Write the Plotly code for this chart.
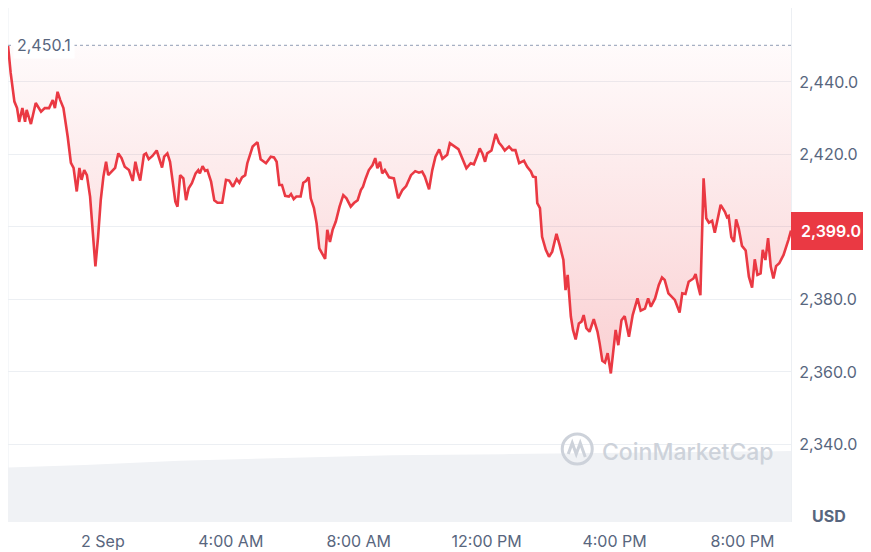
import plotly.graph_objects as go

# ---- price series ----
times = [
    "2024-09-01 21:02", "2024-09-01 21:07", "2024-09-01 21:14", "2024-09-01 21:19",
    "2024-09-01 21:23", "2024-09-01 21:29", "2024-09-01 21:34", "2024-09-01 21:37",
    "2024-09-01 21:45", "2024-09-01 21:54", "2024-09-01 22:04", "2024-09-01 22:11",
    "2024-09-01 22:19", "2024-09-01 22:26", "2024-09-01 22:30", "2024-09-01 22:35",
    "2024-09-01 22:40", "2024-09-01 22:46", "2024-09-01 22:54", "2024-09-01 23:00",
    "2024-09-01 23:05", "2024-09-01 23:11", "2024-09-01 23:16", "2024-09-01 23:20",
    "2024-09-01 23:25", "2024-09-01 23:30", "2024-09-01 23:36", "2024-09-01 23:41",
    "2024-09-01 23:46", "2024-09-01 23:51", "2024-09-01 23:56",
    "2024-09-02 00:01", "2024-09-02 00:06", "2024-09-02 00:10", "2024-09-02 00:18",
    "2024-09-02 00:23", "2024-09-02 00:29", "2024-09-02 00:35", "2024-09-02 00:41",
    "2024-09-02 00:49", "2024-09-02 00:56", "2024-09-02 01:01", "2024-09-02 01:05",
    "2024-09-02 01:10", "2024-09-02 01:17", "2024-09-02 01:21", "2024-09-02 01:26",
    "2024-09-02 01:33", "2024-09-02 01:41", "2024-09-02 01:46", "2024-09-02 01:51",
    "2024-09-02 01:55", "2024-09-02 02:01", "2024-09-02 02:06", "2024-09-02 02:11",
    "2024-09-02 02:16", "2024-09-02 02:20", "2024-09-02 02:25", "2024-09-02 02:31",
    "2024-09-02 02:36", "2024-09-02 02:41", "2024-09-02 02:47", "2024-09-02 02:54",
    "2024-09-02 02:59", "2024-09-02 03:02", "2024-09-02 03:07", "2024-09-02 03:12",
    "2024-09-02 03:16", "2024-09-02 03:23", "2024-09-02 03:29", "2024-09-02 03:35",
    "2024-09-02 03:44", "2024-09-02 03:51", "2024-09-02 03:57", "2024-09-02 04:04",
    "2024-09-02 04:11", "2024-09-02 04:16", "2024-09-02 04:21", "2024-09-02 04:27",
    "2024-09-02 04:31", "2024-09-02 04:36", "2024-09-02 04:41", "2024-09-02 04:50",
    "2024-09-02 04:56", "2024-09-02 05:06", "2024-09-02 05:15", "2024-09-02 05:21",
    "2024-09-02 05:26", "2024-09-02 05:31", "2024-09-02 05:36", "2024-09-02 05:42",
    "2024-09-02 05:49", "2024-09-02 05:53", "2024-09-02 05:58", "2024-09-02 06:03",
    "2024-09-02 06:11", "2024-09-02 06:16", "2024-09-02 06:21", "2024-09-02 06:26",
    "2024-09-02 06:30", "2024-09-02 06:36", "2024-09-02 06:41", "2024-09-02 06:46",
    "2024-09-02 06:52", "2024-09-02 06:57", "2024-09-02 07:01", "2024-09-02 07:06",
    "2024-09-02 07:11", "2024-09-02 07:17", "2024-09-02 07:24", "2024-09-02 07:31",
    "2024-09-02 07:37", "2024-09-02 07:45", "2024-09-02 07:51", "2024-09-02 07:58",
    "2024-09-02 08:04", "2024-09-02 08:08", "2024-09-02 08:13", "2024-09-02 08:19",
    "2024-09-02 08:26", "2024-09-02 08:31", "2024-09-02 08:35", "2024-09-02 08:40",
    "2024-09-02 08:44", "2024-09-02 08:49", "2024-09-02 08:57", "2024-09-02 09:06",
    "2024-09-02 09:14", "2024-09-02 09:22", "2024-09-02 09:29", "2024-09-02 09:38",
    "2024-09-02 09:46", "2024-09-02 09:53", "2024-09-02 09:59", "2024-09-02 10:04",
    "2024-09-02 10:12", "2024-09-02 10:18", "2024-09-02 10:24", "2024-09-02 10:31",
    "2024-09-02 10:37", "2024-09-02 10:46", "2024-09-02 10:51", "2024-09-02 10:59",
    "2024-09-02 11:07", "2024-09-02 11:14", "2024-09-02 11:22", "2024-09-02 11:30",
    "2024-09-02 11:36", "2024-09-02 11:43", "2024-09-02 11:47", "2024-09-02 11:52",
    "2024-09-02 11:57", "2024-09-02 12:01", "2024-09-02 12:09", "2024-09-02 12:17",
    "2024-09-02 12:23", "2024-09-02 12:29", "2024-09-02 12:34", "2024-09-02 12:42",
    "2024-09-02 12:48", "2024-09-02 12:54", "2024-09-02 13:01", "2024-09-02 13:10",
    "2024-09-02 13:16", "2024-09-02 13:23", "2024-09-02 13:27", "2024-09-02 13:32",
    "2024-09-02 13:35", "2024-09-02 13:40", "2024-09-02 13:44", "2024-09-02 13:51",
    "2024-09-02 13:57", "2024-09-02 14:03", "2024-09-02 14:11", "2024-09-02 14:17",
    "2024-09-02 14:24", "2024-09-02 14:28", "2024-09-02 14:32", "2024-09-02 14:38",
    "2024-09-02 14:42", "2024-09-02 14:47", "2024-09-02 14:53", "2024-09-02 14:58",
    "2024-09-02 15:02", "2024-09-02 15:07", "2024-09-02 15:13", "2024-09-02 15:21",
    "2024-09-02 15:28", "2024-09-02 15:32", "2024-09-02 15:37", "2024-09-02 15:42",
    "2024-09-02 15:47", "2024-09-02 15:53", "2024-09-02 15:58", "2024-09-02 16:02",
    "2024-09-02 16:07", "2024-09-02 16:13", "2024-09-02 16:19", "2024-09-02 16:27",
    "2024-09-02 16:34", "2024-09-02 16:43", "2024-09-02 16:49", "2024-09-02 16:57",
    "2024-09-02 17:03", "2024-09-02 17:08", "2024-09-02 17:16", "2024-09-02 17:23",
    "2024-09-02 17:29", "2024-09-02 17:34", "2024-09-02 17:41", "2024-09-02 17:47",
    "2024-09-02 17:53", "2024-09-02 18:02", "2024-09-02 18:07", "2024-09-02 18:13",
    "2024-09-02 18:19", "2024-09-02 18:28", "2024-09-02 18:32", "2024-09-02 18:37",
    "2024-09-02 18:41", "2024-09-02 18:47", "2024-09-02 18:52", "2024-09-02 18:57",
    "2024-09-02 19:03", "2024-09-02 19:08", "2024-09-02 19:13", "2024-09-02 19:19",
    "2024-09-02 19:27", "2024-09-02 19:31", "2024-09-02 19:34", "2024-09-02 19:39",
    "2024-09-02 19:44", "2024-09-02 19:48", "2024-09-02 19:53", "2024-09-02 19:59",
    "2024-09-02 20:06", "2024-09-02 20:12", "2024-09-02 20:18", "2024-09-02 20:23",
    "2024-09-02 20:28", "2024-09-02 20:34", "2024-09-02 20:38", "2024-09-02 20:43",
    "2024-09-02 20:48", "2024-09-02 20:53", "2024-09-02 20:58", "2024-09-02 21:03",
    "2024-09-02 21:09", "2024-09-02 21:17", "2024-09-02 21:26", "2024-09-02 21:31",
]

prices = [
    2450.1, 2442.5, 2434.6, 2432.8, 2429.0, 2432.8, 2429.0, 2432.3,
    2428.4, 2434.2, 2431.8, 2432.8, 2432.8, 2435.0, 2432.8, 2437.3,
    2435.0, 2432.8, 2424.9, 2417.7, 2416.3, 2409.8, 2416.3, 2413.0,
    2415.7, 2414.3, 2408.4, 2399.2, 2389.1, 2397.3, 2407.4,
    2413.9, 2418.0, 2414.3, 2415.7, 2416.3, 2420.3, 2419.0, 2416.6,
    2415.7, 2412.7, 2418.0, 2415.3, 2412.8, 2419.9, 2420.3, 2418.7,
    2419.6, 2421.1, 2419.0, 2416.4, 2419.4, 2420.3, 2418.0, 2412.5,
    2407.0, 2405.6, 2414.3, 2413.4, 2407.4, 2410.7, 2412.1, 2414.8,
    2415.7, 2414.8, 2416.8, 2415.5, 2415.7, 2412.5, 2407.4, 2406.7,
    2406.7, 2413.0, 2412.8, 2411.1, 2413.2, 2412.2, 2413.7, 2414.3,
    2417.6, 2419.9, 2422.2, 2423.4, 2418.7, 2417.6, 2419.4, 2419.2,
    2418.0, 2411.6, 2411.6, 2408.6, 2408.4, 2409.1, 2407.7, 2408.4,
    2408.4, 2412.2, 2412.7, 2413.7, 2407.9, 2405.2, 2401.0, 2394.1,
    2392.3, 2391.2, 2399.2, 2395.9, 2399.2, 2401.5, 2405.6, 2408.8,
    2407.9, 2405.6, 2406.6, 2407.4, 2410.2, 2411.1, 2413.4, 2415.7,
    2417.1, 2419.0, 2416.2, 2418.0, 2414.8, 2415.7, 2413.7, 2413.4,
    2407.9, 2410.2, 2411.3, 2414.3, 2415.4, 2415.0, 2415.3, 2413.9,
    2410.4, 2415.7, 2419.4, 2421.4, 2418.8, 2419.9, 2423.1, 2422.2,
    2421.5, 2419.0, 2416.2, 2417.6, 2417.3, 2419.9, 2421.7, 2420.3,
    2418.0, 2420.3, 2421.1, 2425.7, 2423.3, 2422.2, 2421.1, 2422.2,
    2421.2, 2421.2, 2417.6, 2418.3, 2416.6, 2415.3, 2413.9, 2413.7,
    2406.6, 2405.2, 2397.3, 2393.7, 2391.8, 2393.2, 2398.1, 2395.0,
    2390.9, 2382.6, 2386.8, 2375.3, 2371.6, 2369.0, 2373.4, 2373.9,
    2375.7, 2372.1, 2371.1, 2374.6, 2371.1, 2367.9, 2363.1, 2362.6,
    2365.2, 2359.6, 2366.1, 2371.6, 2367.4, 2374.3, 2375.4, 2369.7,
    2375.7, 2380.3, 2376.9, 2377.5, 2380.3, 2378.0, 2380.3, 2384.0,
    2386.1, 2385.4, 2381.7, 2380.8, 2379.9, 2376.4, 2381.7, 2381.5,
    2384.9, 2385.8, 2387.0, 2383.5, 2381.2, 2413.4, 2402.4, 2401.2,
    2401.7, 2398.4, 2402.4, 2406.1, 2404.2, 2402.7, 2403.0, 2397.2,
    2395.9, 2402.1, 2399.6, 2394.8, 2393.5, 2386.3, 2383.3, 2391.1,
    2386.8, 2387.2, 2393.7, 2390.9, 2396.9, 2389.1, 2385.8, 2389.2,
    2390.0, 2392.3, 2396.4, 2399.0,
]

# ---- volume band (relative units) ----
vol_times = [
    "2024-09-01 21:02", "2024-09-01 23:26", "2024-09-02 02:24", "2024-09-02 05:32",
    "2024-09-02 09:02", "2024-09-02 12:32", "2024-09-02 16:02", "2024-09-02 19:30",
    "2024-09-02 21:31",
]
volume = [10.6, 11.1, 11.9, 12.4, 13.0, 13.2, 13.4, 13.6, 13.8]

# ---- axis ticks ----
x_tick_vals = ["2024-09-02 00:00", "2024-09-02 04:00", "2024-09-02 08:00",
               "2024-09-02 12:00", "2024-09-02 16:00", "2024-09-02 20:00"]
x_tick_text = ["2 Sep", "4:00 AM", "8:00 AM", "12:00 PM", "4:00 PM", "8:00 PM"]
y_tick_vals = [2340, 2360, 2380, 2400, 2420, 2440]
# the 2,400.0 label sits under the last-price badge, so it is left blank
y_tick_text = ["2,340.0", "2,360.0", "2,380.0", "", "2,420.0", "2,440.0"]

RED = "#ea3943"
GRAY_TXT = "#58667e"
GRID = "#eceff3"
FONT = "Inter"

open_price = prices[0]
last_price = prices[-1]

fig = go.Figure()

# baseline (open price) for the fill
fig.add_trace(go.Scatter(
    x=times, y=[open_price] * len(times), mode="lines",
    line=dict(width=0, color="rgba(0,0,0,0)"), hoverinfo="skip", showlegend=False,
))
# price line with gradient fill up to the open price
fig.add_trace(go.Scatter(
    x=times, y=prices, mode="lines",
    line=dict(color=RED, width=2.6),
    fill="tonexty",
    fillgradient=dict(
        type="vertical",
        colorscale=[[0, "rgba(234,57,67,0.24)"], [1, "rgba(234,57,67,0.02)"]],
        start=2358, stop=open_price,
    ),
    hoverinfo="skip", showlegend=False,
))
# volume band
fig.add_trace(go.Scatter(
    x=vol_times, y=volume, yaxis="y2", mode="lines",
    line=dict(width=0, color="#f0f2f5"), fill="tozeroy", fillcolor="#f0f2f5",
    hoverinfo="skip", showlegend=False,
))

# page body adds an 8px offset, so the figure is 8px smaller than the window
fig.update_layout(
    width=863, height=544,
    margin=dict(l=0, r=80, t=0, b=30, autoexpand=False),
    paper_bgcolor="white", plot_bgcolor="white",
    font=dict(family=FONT, color=GRAY_TXT),
    showlegend=False,
    xaxis=dict(
        type="date", range=[times[0], times[-1]],
        tickvals=x_tick_vals, ticktext=x_tick_text,
        showgrid=False, zeroline=False, showline=False, ticks="",
        tickfont=dict(size=16, color=GRAY_TXT, family=FONT),
        ticklabelstandoff=8, automargin=False,
    ),
    yaxis=dict(
        side="right", range=[2318.62, 2460.41],
        tickvals=y_tick_vals, ticktext=y_tick_text,
        showgrid=True, gridcolor=GRID, gridwidth=1,
        zeroline=False, showline=True, linecolor=GRID, linewidth=1,
        ticks="", ticklabelstandoff=4, automargin=False,
        tickfont=dict(size=16, color=GRAY_TXT, family=FONT),
    ),
    yaxis2=dict(overlaying="y", range=[0, 100], visible=False),
)

# left border
fig.add_shape(type="line", xref="paper", yref="paper", x0=0, x1=0, y0=0, y1=1,
              line=dict(color=GRID, width=1), layer="below")
# open-price dotted line
fig.add_shape(type="line", xref="paper", yref="y", x0=0, x1=1,
              y0=open_price, y1=open_price,
              line=dict(color="#a6b0c3", width=1.4, dash="dot"))
fig.add_annotation(
    xref="paper", yref="y", x=0, y=open_price, xanchor="left", yanchor="middle",
    xshift=5, text=f"{open_price:,.1f}", showarrow=False,
    bgcolor="white", borderpad=3,
    font=dict(size=16, color=GRAY_TXT, family=FONT),
)
# last-price badge
fig.add_annotation(
    xref="paper", yref="y", x=1, y=last_price, xanchor="left", yanchor="middle",
    text=f"{last_price:,.1f}", showarrow=False,
    bgcolor=RED, bordercolor=RED, borderpad=0, width=78, height=36,
    font=dict(size=16, color="white", family=FONT, weight=600),
)
# currency label
fig.add_annotation(
    xref="paper", yref="paper", x=1, y=0, xanchor="left", yanchor="middle",
    xshift=19, yshift=6, text="<b>USD</b>", showarrow=False,
    font=dict(size=16, color=GRAY_TXT, family=FONT),
)

# watermark
WM = "#cdd2da"
fig.add_shape(type="circle", xref="paper", yref="paper",
              xsizemode="pixel", ysizemode="pixel",
              xanchor=0.7270, yanchor=0.1420, x0=-15, x1=15, y0=-15, y1=15,
              line=dict(color=WM, width=3))
fig.add_shape(type="path", xref="paper", yref="paper",
              xsizemode="pixel", ysizemode="pixel",
              xanchor=0.7270, yanchor=0.1420,
              path="M -9 -5 L -5 6 L -1 -5 L 3 6 L 8 -8",
              line=dict(color=WM, width=3))
fig.add_annotation(
    xref="paper", yref="paper", x=0.7564, y=0.1362, xanchor="left", yanchor="middle",
    text="CoinMarketCap", showarrow=False,
    font=dict(size=23, color=WM, family=FONT, weight=500),
)

fig.write_html("out.html")
